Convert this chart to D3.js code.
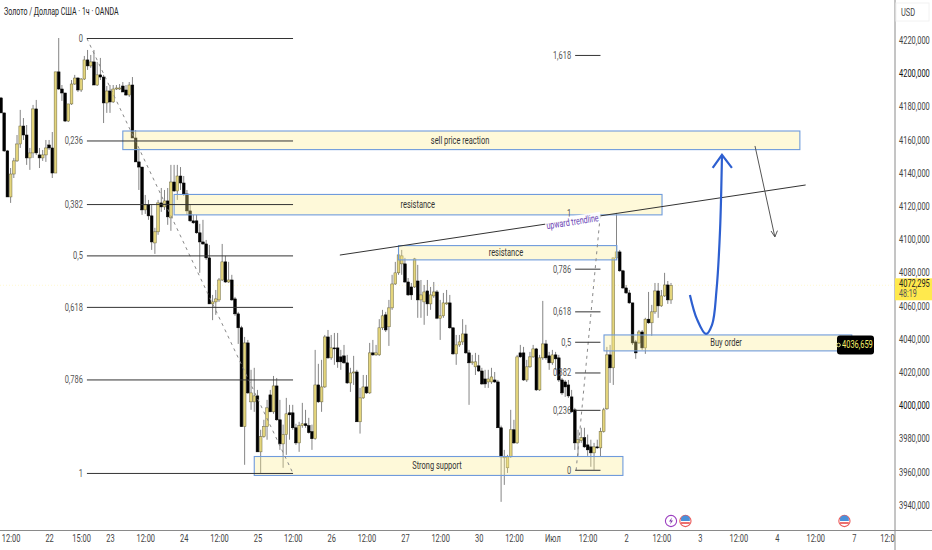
<!DOCTYPE html>
<html>
<head>
<meta charset="utf-8">
<script src="https://cdn.jsdelivr.net/npm/d3@7"></script>
<style>
  html, body { margin: 0; padding: 0; background: #fff; }
  text { font-family: Roboto, sans-serif; }
</style>
</head>
<body>
<div id="chart"></div>
<script>
var svgWidth = 932;
var svgHeight = 550;

// hourly candles
var opens = [
4185.1,4176.1,4153.2,4125.5,4139.3,4147.2,4157.4,4168.2,4162.8,4149,
4152,4178.5,4150.8,4149,4150.8,4156.8,4155,4139.9,4200.8,4190.5,
4188.1,4171.2,4181.5,4193.5,4197.1,4189.9,4196.5,4208,4204.4,4206.8,
4192.9,4199,4197.7,4182.1,4189.3,4182.7,4190.5,4190.5,4192.3,4189.9,
4186.9,4192.9,4161,4146.6,4143.5,4117.7,4120.7,4114.1,4097.8,4104.5,
4121.9,4119.5,4123.1,4112.9,4134.5,4129.1,4138.1,4133.9,4127.3,4117.1,
4111.1,4111.1,4103.9,4098.4,4097.2,4088.8,4061.1,4062.3,4063.5,4075.5,
4086.4,4074.3,4075.5,4064.1,4055.1,4046.7,3987.2,4037.6,4002.1,4002.1,
4005.7,3972,3981.1,3987.2,4006.3,3996.1,4011.7,3991.3,3976.8,3982.4,
3995.5,3995.5,3986.5,3977.4,3987.8,3988.9,3987.8,3984.2,3979.9,4012.3,
4002.1,4011.1,4041.2,4028.6,4034.6,4034.6,4029.2,4029.8,4025.6,4013.5,
4019.5,4020.1,3990.1,4004.5,4011.1,4007.5,4031.6,4030.4,4030.4,4046.7,
4054.5,4047.3,4058.7,4073.1,4079.8,4085.2,4085.2,4074.3,4071.3,4071.3,
4074.9,4063.5,4062.3,4068.9,4061.1,4065.9,4068.3,4052.5,4053.9,4061.1,
4061.7,4046.7,4031,4036.4,4038.2,4043,4031.6,4025.6,4023.2,4023.8,
4020.7,4015.9,4014.1,4014.1,4015.3,4014.1,3986.5,3968.4,3962.4,3969,
3985.3,3977.4,4031.6,4031.6,4015.3,4023.2,4029.2,4034,4009.3,4028.6,
4037,4029.8,4025.6,4030.4,4028.6,4015.3,4014.1,4012.3,4005.1,3997.3,
3977.4,3978.7,3980.5,3976.2,3975,3971.4,3975,3974.4,3984.2,3997.9,
4030.4,4022.6,4088.8,4092.4,4081,4070.7,4067.7,4061.7,4038.2,4037.6,
4044.2,4034.6,4051.9,4049.7,4056.3,4068.9,4059.9,4065.9,4072.5,4063.5
];
var highs = [
4185.7,4176.1,4153.8,4142.9,4149,4162.8,4177.9,4173,4168.8,4155,
4180.9,4183.9,4155,4153.8,4159.8,4159.8,4164.6,4200.8,4221.2,4192.9,
4188.1,4181.5,4195.9,4199,4197.7,4197.1,4210.4,4214,4211,4214,
4206.8,4209.2,4199,4192.3,4192.9,4192.9,4192.9,4193.5,4194.7,4192.9,
4194.7,4197.7,4165.8,4153.8,4143.5,4126.7,4123.7,4120.7,4106.9,4123.7,
4130.9,4129.7,4130.9,4144.8,4144.8,4144.8,4143.5,4138.1,4129.7,4120.7,
4114.7,4114.7,4109.3,4111.7,4099.6,4096.6,4066.5,4069.5,4076.7,4097.2,
4090,4086.4,4078.6,4065.3,4056.3,4047.9,4041.2,4039.4,4021.4,4022.6,
4009.3,3985.3,3991.3,4003.3,4009.3,4017.7,4016.5,4003.3,3988.4,4004.5,
4000.3,4000.3,3988.9,3990.1,4001.5,3997.3,3992.5,3988.4,4033.4,4025,
4027.4,4042.4,4045.4,4042.4,4043.6,4043.6,4033.4,4036.4,4030.4,4022.6,
4029.8,4021.4,4010.5,4018.3,4018.3,4037.6,4039.4,4036.4,4051.9,4057.5,
4056.3,4063.5,4078.6,4086.4,4096,4093.6,4088.8,4076.7,4073.7,4088.8,
4084.6,4075.5,4072.5,4075.5,4071.3,4074.3,4069.5,4063.5,4067.7,4069.5,
4066.5,4046.7,4042.4,4042.4,4051.9,4048.5,4033.4,4030.4,4031.6,4030.4,
4022.6,4021.4,4021.4,4022.6,4020.1,4015.3,3987.8,3973.2,3970.2,3997.3,
3991.3,4030.4,4036.4,4035.2,4027.4,4032.2,4036.4,4034.6,4030.4,4062.9,
4039.4,4032.2,4033.4,4032.2,4030.4,4016.5,4015.3,4015.3,4009.3,3998.5,
3985.3,3986.5,3986.5,3982.4,3979.3,3977.4,3979.3,3986.5,3998.5,4035.2,
4036.4,4088.8,4115.9,4093.6,4081.6,4072.5,4069.5,4061.7,4039.4,4045.4,
4045.4,4052.7,4068.3,4060.5,4073.7,4073.7,4069.5,4079.8,4074.9,4073.7
];
var lows = [
4176.1,4152.6,4125.5,4121.9,4136.9,4146.6,4155,4159.8,4144.8,4141.8,
4149,4150.8,4142.9,4147.2,4146.6,4153.8,4136.9,4139.9,4189.9,4183.3,
4170.6,4170.6,4180.9,4192.9,4188.7,4188.7,4195.9,4202,4203.2,4192.9,
4192.3,4195.9,4170,4176.1,4176.1,4182.1,4189.9,4189.9,4188.7,4186.3,
4185.7,4161,4146.6,4129.7,4114.7,4115.3,4111.7,4093.6,4091.2,4102.7,
4116.5,4117.7,4108.7,4105.1,4128.5,4123.7,4129.7,4126.1,4114.7,4110.5,
4109.3,4103.3,4079.8,4096.6,4087.6,4061.1,4051.3,4054.5,4062.3,4074.9,
4073.7,4073.7,4062.9,4053.9,4037,3987.2,3964.2,4006.9,3997.3,3996.1,
3972,3959.3,3980.5,3979.3,3996.1,3994.9,3990.7,3973.2,3962.4,3970.2,
3979.3,3985.3,3976.2,3972,3986.5,3986.5,3983,3973.2,3979.3,4001.5,
3996.1,4010.5,4028,4027.4,4024.4,4022.6,4021.4,4025,4012.9,4008.1,
4012.3,3990.1,3983,4003.9,4006.9,4006.9,4029.8,4029.8,4029.8,4045.4,
4044.2,4035.8,4057.5,4072.5,4078.6,4078.6,4073.7,4065.9,4063.5,4070.7,
4052.7,4052.7,4048.5,4053.9,4057.5,4064.7,4051.9,4039.4,4052.7,4060.5,
4046.1,4030.4,4024.4,4035.2,4036.4,4031,4000.3,4024.4,4018.3,4020.1,
4012.3,4010.5,4010.5,4012.9,4013.5,3986.5,3941.9,3952.1,3959.3,3968.4,
3976.8,3976.8,4028.6,4014.7,4014.1,4022.6,4028.6,4008.7,4008.7,4027.4,
4027.4,4021.4,4024.4,4021.4,4014.1,4006.3,4005.1,4004.5,3995.5,3973.2,
3969.6,3977.4,3974.4,3969.6,3963,3961.2,3973.8,3969,3983.6,3997.3,
4013.5,4012.3,4087.6,4080.4,4070.1,4067.1,4061.1,4036.4,4028,4037,
4033.4,4031,4049.1,4041.8,4055.1,4052.7,4059.3,4065.3,4061.1,4061.1
];
var closes = [
4176.1,4153.2,4125.5,4139.3,4147.2,4157.4,4168.2,4162.8,4149,4152,
4178.5,4152,4149,4150.8,4155,4155,4139.9,4200.8,4190.5,4188.1,
4171.2,4181.5,4193.5,4197.1,4189.9,4196.5,4208,4204.4,4206.8,4192.9,
4199,4197.7,4182.1,4189.3,4182.7,4190.5,4191.1,4191.1,4188.7,4186.9,
4192.9,4161,4146.6,4143.5,4117.7,4120.7,4114.1,4098.4,4104.5,4121.9,
4119.5,4123.1,4113.5,4134.5,4129.1,4138.1,4133.9,4127.3,4117.1,4111.1,
4109.9,4103.9,4098.4,4097.2,4088.8,4061.1,4062.3,4064.1,4075.5,4086.4,
4074.3,4075.5,4063.5,4055.1,4046.7,3987.2,4037.6,4007.5,4007.5,4005.7,
3972,3981.1,3987.2,3998.5,3996.1,4011.7,3991.3,3976.8,3982.4,3994.9,
3994.3,3986.5,3977.4,3987.8,3988.9,3987.8,3983.6,3979.9,4012.3,4002.1,
4011.1,4041.2,4028.6,4034.6,4034,4026.2,4026.2,4025.6,4013.5,4019.5,
4020.1,3990.1,4004.5,4011.1,4007.5,4031.6,4030.4,4031.6,4046.7,4053.9,
4045.4,4058.7,4073.1,4079.8,4090.6,4090,4074.3,4066.5,4066.5,4088.2,
4063.5,4066.5,4068.3,4061.1,4066.5,4068.3,4052.5,4053.9,4061.7,4061.7,
4046.7,4031,4036.4,4038.2,4043,4031.6,4025.6,4026.2,4026.2,4020.7,
4012.9,4012.9,4015.9,4017.1,4014.1,3986.5,3969,3969,3969,3985.3,
3977.4,4029.2,4029.2,4015.3,4023.2,4029.2,4034,4009.3,4028.6,4037,
4028.6,4025.6,4030.4,4028,4015.3,4007.5,4011.1,4005.7,3996.1,3977.4,
3979.3,3980.5,3975,3973.2,3971.4,3975,3974.4,3984.2,3997.3,4030.4,
4022.6,4088.8,4092.4,4081,4070.7,4067.7,4061.7,4037.6,4031.6,4044.2,
4034.6,4051.9,4049.7,4056.3,4068.9,4059.9,4065.9,4072.5,4063.5,4072.295
];

// time axis: bar index of each label, and the label
var timeTicks = [3,15,25,34,45,57,68,80,91,103,114,126,137,149,160,172,183,195,206,218,230,242,254,266,277];
var timeLabels = ["12:00","22","15:00","23","12:00","24","12:00","25","12:00","26","12:00","27","12:00","30","12:00","Июл","12:00","2","12:00","3","12:00","4","12:00","7","12:00"];

var priceTicks = [4220,4200,4180,4160,4140,4120,4100,4080,4060,4040,4020,4000,3980,3960,3940];

// the two fibonacci retracements
var fibLeftLabels = ["0","0,236","0,382","0,5","0,618","0,786","1"];
var fibLeftPrices = [4220.9,4159.2,4120.9,4090,4059,4015.3,3959];
var fibRightLabels = ["1,618","0,786","0,618","0,5","0,382","0,236","0"];
var fibRightPrices = [4210.7,4082,4056.3,4038,4019.5,3997,3960.9];
var fibRightTop = 4115.8;

// zones drawn on the chart
var zoneNames = ["sell price reaction","resistance","resistance","Buy order","Strong support"];
var zoneTop = [4165.2,4127,4096.2,4042.4,3969.2];
var zoneBottom = [4154,4114.7,4087.6,4032.8,3957.8];
var zoneFrom = [38,54,124,188.1,79];
var zoneTo = [249.2,206.2,192.1,265.4,194];
var zoneTextBar = [143.2,130,157.5,226.2,136];

var price = 4072.295;
var orderPrice = 4036.659;

var x = d3.scaleLinear().domain([0, 209]).range([1, 671]);
var y = d3.scaleLinear().domain([4220, 3940]).range([40, 505]);

var svg = d3.select("#chart")
  .append("svg")
  .attr("width", svgWidth)
  .attr("height", svgHeight)
  .style("display", "block")
  .style("background", "#fff");

// faint last price line
svg.append("line")
  .attr("x1", 0).attr("x2", 895)
  .attr("y1", y(price)).attr("y2", y(price))
  .attr("stroke", "#ffe94d")
  .attr("stroke-opacity", 0.25)
  .attr("stroke-dasharray", "1,2");

// candles
var candles = svg.append("g").selectAll("g")
  .data(opens)
  .enter()
  .append("g");

candles.append("line")
  .attr("x1", (d, i) => x(i))
  .attr("x2", (d, i) => x(i))
  .attr("y1", (d, i) => y(highs[i]))
  .attr("y2", (d, i) => y(lows[i]))
  .attr("stroke", "#858585")
  .attr("stroke-width", 1);

candles.append("rect")
  .attr("x", (d, i) => x(i) - 1.35)
  .attr("width", 2.7)
  .attr("y", (d, i) => y(Math.max(opens[i], closes[i])))
  .attr("height", (d, i) => Math.max(1, Math.abs(y(opens[i]) - y(closes[i]))))
  .attr("fill", (d, i) => closes[i] >= opens[i] ? "#e4d57c" : "#000")
  .attr("stroke", (d, i) => closes[i] >= opens[i] ? "#6b6640" : "#000")
  .attr("stroke-width", 0.5);

// zones
var zones = svg.append("g");
zones.selectAll("rect")
  .data(zoneNames)
  .enter()
  .append("rect")
  .attr("x", (d, i) => x(zoneFrom[i]))
  .attr("width", (d, i) => x(zoneTo[i]) - x(zoneFrom[i]))
  .attr("y", (d, i) => y(zoneTop[i]))
  .attr("height", (d, i) => y(zoneBottom[i]) - y(zoneTop[i]))
  .attr("fill", "#fdec8c")
  .attr("fill-opacity", 0.33)
  .attr("stroke", "#6f9bdc")
  .attr("stroke-width", 1.1);

zones.selectAll("text")
  .data(zoneNames)
  .enter()
  .append("text")
  .attr("x", (d, i) => x(zoneTextBar[i]))
  .attr("y", (d, i) => (y(zoneTop[i]) + y(zoneBottom[i])) / 2 + 3.5)
  .attr("text-anchor", "middle")
  .attr("font-size", 10.5)
  .attr("fill", "#333")
  .text(d => d);

// fibonacci: dashed diagonals
svg.append("line")
  .attr("x1", x(26.8)).attr("y1", y(fibLeftPrices[0]))
  .attr("x2", x(91.1)).attr("y2", y(fibLeftPrices[6]))
  .attr("stroke", "#888").attr("stroke-dasharray", "3,4");
svg.append("line")
  .attr("x1", x(179.4)).attr("y1", y(fibRightPrices[6]))
  .attr("x2", x(187)).attr("y2", y(fibRightTop))
  .attr("stroke", "#888").attr("stroke-dasharray", "3,4");

function drawFib(labels, prices, fromBar, toBar) {
  var g = svg.append("g");
  g.selectAll("line")
    .data(prices)
    .enter()
    .append("line")
    .attr("x1", x(fromBar)).attr("x2", x(toBar))
    .attr("y1", d => y(d)).attr("y2", d => y(d))
    .attr("stroke", "#333")
    .attr("stroke-width", 1);
  g.selectAll("text")
    .data(labels)
    .enter()
    .append("text")
    .attr("x", x(fromBar) - 4)
    .attr("y", (d, i) => y(prices[i]) + 3.5)
    .attr("text-anchor", "end")
    .attr("font-size", 10.5)
    .attr("fill", "#555")
    .text(d => d);
}
drawFib(fibLeftLabels, fibLeftPrices, 26.8, 91.1);
drawFib(fibRightLabels, fibRightPrices, 179.1, 187);

// the right fib's top level only shows its label, the rest sits under the note
svg.append("text")
  .attr("x", x(179.1) - 4)
  .attr("y", y(fibRightTop) + 3.5)
  .attr("text-anchor", "end")
  .attr("font-size", 10.5)
  .attr("fill", "#555")
  .text("1");

// trendline
svg.append("line")
  .attr("x1", x(105.7)).attr("y1", y(4090.5))
  .attr("x2", x(251)).attr("y2", y(4132.7))
  .attr("stroke", "#333")
  .attr("stroke-width", 1);

// note on white backing, it hides the trendline behind it
var note = svg.append("g")
  .attr("transform", `translate(${x(170.3)}, ${y(4106)}) rotate(-9)`);
note.append("rect")
  .attr("x", -1).attr("y", -9)
  .attr("width", 56).attr("height", 11)
  .attr("fill", "#fff")
  .attr("fill-opacity", 0.9);
note.append("text")
  .attr("font-size", 10)
  .attr("fill", "#6a3fb5")
  .text("upward trendline");

// blue forecast curve
var curveBars = [214.9,217.1,219.9,221.8,223.2,224.3,224.9];
var curvePrices = [4066.5,4051.9,4043,4048.5,4069.5,4105.6,4150.8];
var curveLine = d3.line()
  .x(d => x(d))
  .y((d, i) => y(curvePrices[i]))
  .curve(d3.curveCatmullRom);
svg.append("path")
  .attr("d", curveLine(curveBars))
  .attr("fill", "none")
  .attr("stroke", "#2d5fd0")
  .attr("stroke-width", 2.2);
svg.append("path")
  .attr("d", d3.line()([[x(222), y(4143)], [x(224.9), y(4150.8)], [x(228), y(4143)]]))
  .attr("fill", "none")
  .attr("stroke", "#2d5fd0")
  .attr("stroke-width", 2.2);

// thin gray arrow going down
svg.append("line")
  .attr("x1", x(235.2)).attr("y1", y(4156.2))
  .attr("x2", x(241.4)).attr("y2", y(4101.4))
  .attr("stroke", "#555");
svg.append("path")
  .attr("d", d3.line()([[x(240.2), y(4105)], [x(241.4), y(4101.4)], [x(242.2), y(4105.2)]]))
  .attr("fill", "none")
  .attr("stroke", "#555");

// title
svg.append("text")
  .attr("class", "title")
  .attr("x", 4).attr("y", 15)
  .attr("font-size", 11)
  .attr("fill", "#222")
  .text("Золото / Доллар США · 1ч · OANDA");

// time axis
var xAxis = d3.axisBottom(x)
  .tickValues(timeTicks)
  .tickFormat((d, i) => timeLabels[i])
  .tickSize(0)
  .tickPadding(5);
var xAxisGroup = svg.append("g")
  .attr("transform", "translate(0, 530)")
  .call(xAxis);
xAxisGroup.select(".domain").remove();
xAxisGroup.selectAll("text")
  .attr("font-size", 10.5)
  .attr("fill", "#444");
xAxisGroup.attr("font-family", null);

// price scale panel covers the clipped last label
svg.append("rect")
  .attr("x", 895).attr("y", 0)
  .attr("width", 37).attr("height", svgHeight)
  .attr("fill", "#fff");
svg.append("line")
  .attr("x1", 0).attr("x2", svgWidth)
  .attr("y1", 530.5).attr("y2", 530.5)
  .attr("stroke", "#8a8a8a");
svg.append("line")
  .attr("x1", 895).attr("x2", 895)
  .attr("y1", 0).attr("y2", svgHeight)
  .attr("stroke", "#8a8a8a");

var yAxis = d3.axisRight(y)
  .tickValues(priceTicks)
  .tickFormat(d => d + ",000")
  .tickSize(0)
  .tickPadding(4);
var yAxisGroup = svg.append("g")
  .attr("transform", "translate(895, 0)")
  .call(yAxis);
yAxisGroup.select(".domain").remove();
yAxisGroup.selectAll("text")
  .attr("font-size", 10.5)
  .attr("fill", d => (d === 4200 || d === 4000) ? "#111" : "#444");
yAxisGroup.attr("font-family", null);

svg.append("rect")
  .attr("x", 896).attr("y", 3)
  .attr("width", 33).attr("height", 18)
  .attr("fill", "#fff")
  .attr("stroke", "#f2f2f2");
svg.append("text")
  .attr("x", 901).attr("y", 16)
  .attr("font-size", 10.5)
  .attr("fill", "#444")
  .text("USD");

// last price tag
svg.append("rect")
  .attr("x", 895).attr("y", y(price) - 7)
  .attr("width", 37).attr("height", 22)
  .attr("fill", "#ffe94d");
svg.append("text")
  .attr("x", 899).attr("y", y(price) + 2)
  .attr("font-size", 10.5)
  .attr("fill", "#222")
  .text("4072,295");
svg.append("text")
  .attr("x", 899).attr("y", y(price) + 12)
  .attr("font-size", 10)
  .attr("fill", "#555")
  .text("48:19");

// pending order tag
svg.append("rect")
  .attr("x", 837).attr("y", y(orderPrice) - 9)
  .attr("width", 37).attr("height", 19)
  .attr("rx", 3)
  .attr("fill", "#000");
svg.append("circle")
  .attr("cx", 838.5).attr("cy", y(orderPrice) + 0.5)
  .attr("r", 1.8)
  .attr("fill", "none")
  .attr("stroke", "#e8e27a");
svg.append("text")
  .attr("x", 842).attr("y", y(orderPrice) + 4)
  .attr("font-size", 10.5)
  .attr("fill", "#f7ee6a")
  .text("4036,659");

// event icons above the time axis
var flagBars = [213.5, 263.1];
var flags = svg.append("g").selectAll("g")
  .data(flagBars)
  .enter()
  .append("g")
  .attr("transform", d => `translate(${x(d)}, 521)`);
flags.append("circle").attr("r", 5.6).attr("fill", "#fff").attr("stroke", "#ea5b5b").attr("stroke-width", 1.1);
flags.append("path").attr("d", "M-4.4,-3 A5,5 0 0 1 4.4,-3 L4.4,0 L-4.4,0 Z").attr("fill", "#4a90d9");
flags.append("rect").attr("x", -4.4).attr("y", 1.2).attr("width", 8.8).attr("height", 1.6).attr("fill", "#e84c4c");

var bolt = svg.append("g").attr("transform", `translate(${x(209)}, 521)`);
bolt.append("circle").attr("r", 5.6).attr("fill", "#fff").attr("stroke", "#9c3fc0").attr("stroke-width", 1.1);
bolt.append("path").attr("d", "M1,-3.5 L-2,0.5 L0,0.5 L-1,3.5 L2,-0.5 L0,-0.5 Z").attr("fill", "#7d3aa8");

// the source picture is squeezed sideways, so all text is narrow
svg.selectAll("text").each(function() {
  var node = d3.select(this);
  var squeeze = node.classed("title") ? 0.64 : 0.71;
  node.attr("textLength", this.getComputedTextLength() * squeeze)
    .attr("lengthAdjust", "spacingAndGlyphs");
});
</script>
</body>
</html>
